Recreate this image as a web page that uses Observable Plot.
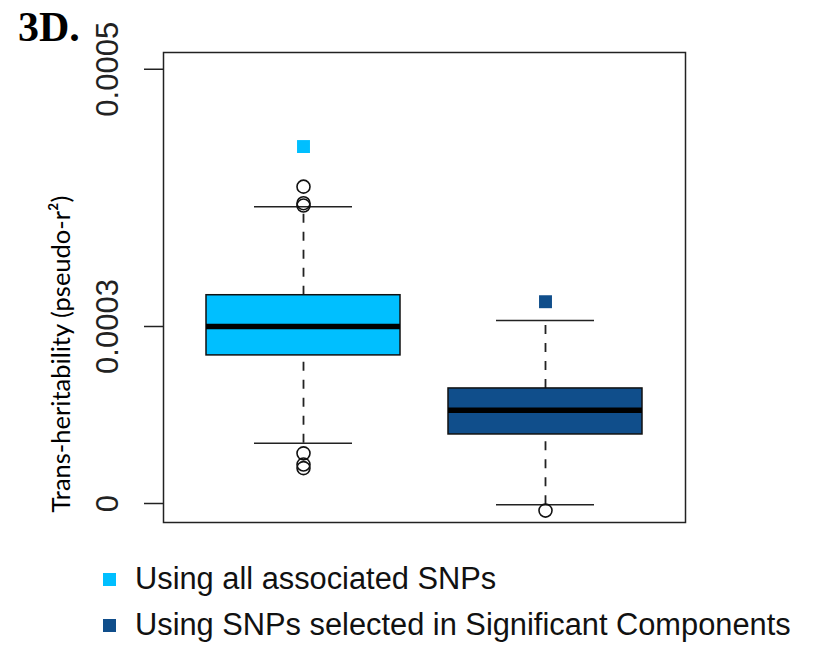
<!DOCTYPE html>
<html>
<head>
<meta charset="utf-8">
<script src="https://cdn.jsdelivr.net/npm/d3@7"></script>
<script src="https://cdn.jsdelivr.net/npm/@observablehq/plot@0.6"></script>
<style>
  body { margin: 0; background: #fff; }
  #wrap { position: relative; width: 814px; height: 645px; overflow: hidden; }
  #panel { position: absolute; left: 18px; top: 4px; font: bold 42px/1.1 "Liberation Serif", "Times New Roman", serif; color: #000; }
  #ytitle { position: absolute; left: 60px; top: 354px; transform: translate(-50%, -50%) rotate(-90deg); white-space: nowrap; font: 25.5px Lato, "Liberation Sans", sans-serif; color: #000; }
  .leg { position: absolute; left: 103px; height: 31px; display: flex; align-items: center; white-space: nowrap; }
  .leg .sw { width: 13px; height: 13px; margin-right: 19px; }
  .leg .tx { font: 30.8px/1 "Liberation Sans", Arial, sans-serif; color: #111; }
</style>
</head>
<body>
<div id="wrap">
  <div id="chart"></div>
  <div id="panel">3D.</div>
  <div id="ytitle">Trans-heritability (pseudo-r²)</div>
  <div id="legend"></div>
</div>
<script>
// Data
const categories = ["all", "sig"];
const legendLabels = ["Using all associated SNPs", "Using SNPs selected in Significant Components"];
const colors = ["#00BFFF", "#104E8B"];
const q1 = [0.000251, 0.000117];
const median = [0.000300, 0.000158];
const q3 = [0.000353, 0.000195];
const whiskerLow = [0.000102, -0.000002];
const whiskerHigh = [0.000503, 0.000310];
const outlierGroup = ["all", "all", "all", "all", "all", "all", "sig"];
const outlierValue = [0.000537, 0.000509, 0.000505, 0.000085, 0.000066, 0.000060, -0.000012];
const observed = [0.000605, 0.000342];
// Tick positions and labels as printed on the original axis
const tickValues = [0, 0.0003, 0.000736];
const tickLabels = ["0", "0.0003", "0.0005"];

const boxes = categories.map((c, i) => ({
  cat: c, color: colors[i], q1: q1[i], median: median[i], q3: q3[i],
  lo: whiskerLow[i], hi: whiskerHigh[i], obs: observed[i]
}));
const outliers = outlierGroup.map((g, i) => ({cat: g, v: outlierValue[i]}));

const chart = Plot.plot({
  width: 814,
  height: 545,
  marginLeft: 163,
  marginRight: 129,
  marginTop: 52,
  marginBottom: 23,
  style: {fontFamily: "'Liberation Sans', Arial, sans-serif", background: "white"},
  x: {type: "band", domain: categories, paddingInner: 0.198, paddingOuter: 0.1775, axis: null},
  y: {domain: [-0.0000322, 0.0007644], axis: null},
  marks: [
    Plot.ruleX(boxes, {x: "cat", y1: "q3", y2: "hi", stroke: "#222", strokeWidth: 1.8, strokeDasharray: "9,9"}),
    Plot.ruleX(boxes, {x: "cat", y1: "lo", y2: "q1", stroke: "#222", strokeWidth: 1.8, strokeDasharray: "9,9"}),
    Plot.tickY(boxes, {x: "cat", y: "hi", stroke: "#222", strokeWidth: 1.5, insetLeft: 48, insetRight: 48}),
    Plot.tickY(boxes, {x: "cat", y: "lo", stroke: "#222", strokeWidth: 1.5, insetLeft: 48, insetRight: 48}),
    Plot.rect(boxes, {x: "cat", y1: "q1", y2: "q3", fill: "color", stroke: "#111", strokeWidth: 1.5}),
    Plot.tickY(boxes, {x: "cat", y: "median", stroke: "#000", strokeWidth: 5.5}),
    Plot.dot(outliers, {x: "cat", y: "v", r: 6.5, stroke: "#111", strokeWidth: 1.6, fill: "none"}),
    Plot.dot(boxes, {x: "cat", y: "obs", symbol: "square", r: 7.3, fill: "color", stroke: "none"}),
    Plot.frame({stroke: "#222", strokeWidth: 1.5}),
    Plot.axisY({
      ticks: tickValues,
      tickFormat: (d, i) => tickLabels[i],
      tickSize: 19,
      tickPadding: 27,
      tickRotate: -90,
      fontSize: 31,
      fill: "#222",
      stroke: "#222",
      strokeWidth: 1.5,
      label: null
    })
  ]
});
document.getElementById("chart").appendChild(chart);

const legend = document.getElementById("legend");
legendLabels.forEach((t, i) => {
  const row = document.createElement("div");
  row.className = "leg";
  row.style.top = (i === 0 ? 564 : 610) + "px";
  row.innerHTML = `<div class="sw" style="background:${colors[i]}"></div><div class="tx"></div>`;
  row.querySelector(".tx").textContent = t;
  legend.appendChild(row);
});
</script>
</body>
</html>
